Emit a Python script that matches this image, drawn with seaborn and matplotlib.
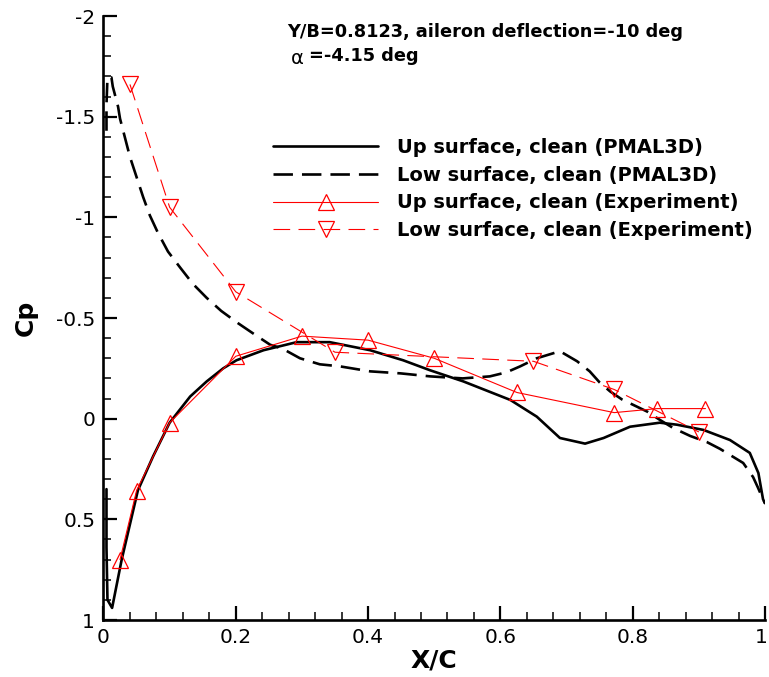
import numpy as np
import pandas as pd
import matplotlib
matplotlib.use("Agg")
import matplotlib.pyplot as plt
import matplotlib.transforms as mtransforms
import seaborn as sns
from matplotlib.ticker import FixedLocator, MultipleLocator, FixedFormatter

# ---------------- data ----------------
up_cfd_x = [0.0045, 0.0045, 0.006, 0.013, 0.0275, 0.052, 0.075, 0.10, 0.131, 0.156, 0.181,
            0.201, 0.242, 0.292, 0.342, 0.403, 0.453, 0.494, 0.544, 0.615, 0.655, 0.69,
            0.728, 0.756, 0.796, 0.841, 0.867, 0.907, 0.947, 0.977, 0.99, 0.997, 1.0]
up_cfd_cp = [0.35, 0.64, 0.90, 0.94, 0.70, 0.356, 0.187, 0.02, -0.11, -0.185, -0.25,
             -0.29, -0.34, -0.38, -0.38, -0.34, -0.29, -0.24, -0.185, -0.093, -0.01, 0.096,
             0.124, 0.096, 0.04, 0.02, 0.03, 0.056, 0.106, 0.17, 0.27, 0.40, 0.42]

low_cfd_x = [0.0045, 0.0045, 0.006, 0.012, 0.014, 0.022, 0.025, 0.0325, 0.04, 0.05, 0.06,
             0.07, 0.082, 0.0975, 0.116, 0.135, 0.156, 0.178, 0.203, 0.229, 0.252, 0.271,
             0.297, 0.327, 0.357, 0.403, 0.449, 0.494, 0.543, 0.584, 0.609, 0.63, 0.655,
             0.675, 0.69, 0.716, 0.735, 0.75, 0.766, 0.784, 0.803, 0.822, 0.841, 0.861,
             0.887, 0.912, 0.932, 0.952, 0.967, 0.982, 0.989, 0.997, 1.0]
low_cfd_cp = [-1.43, -1.56, -1.695, -1.695, -1.65, -1.55, -1.49, -1.395, -1.30, -1.20, -1.10,
              -1.01, -0.925, -0.83, -0.75, -0.67, -0.60, -0.535, -0.475, -0.417, -0.367, -0.347,
              -0.30, -0.27, -0.26, -0.235, -0.225, -0.21, -0.20, -0.21, -0.23, -0.26, -0.30,
              -0.32, -0.335, -0.285, -0.235, -0.18, -0.135, -0.095, -0.065, -0.035, 0.006, 0.046,
              0.086, 0.116, 0.15, 0.19, 0.22, 0.29, 0.34, 0.40, 0.42]

up_exp_x = [0.025, 0.05, 0.10, 0.20, 0.30, 0.40, 0.50, 0.625, 0.772, 0.837, 0.91]
up_exp_cp = [0.70, 0.357, 0.02, -0.31, -0.41, -0.39, -0.30, -0.13, -0.03, -0.05, -0.05]

low_exp_x = [0.04, 0.10, 0.20, 0.35, 0.65, 0.772, 0.90]
low_exp_cp = [-1.66, -1.05, -0.63, -0.33, -0.285, -0.145, 0.066]

labels = ["Up surface, clean (PMAL3D)", "Low surface, clean (PMAL3D)",
          "Up surface, clean (Experiment)", "Low surface, clean (Experiment)"]
x_ticks = [0, 0.2, 0.4, 0.6, 0.8, 1.0]
x_ticklabels = ["0", "0.2", "0.4", "0.6", "0.8", "1"]
y_ticks = [-2, -1.5, -1, -0.5, 0, 0.5, 1]
y_ticklabels = ["-2", "-1.5", "-1", "-0.5", "0", "0.5", "1"]
title1 = "Y/B=0.8123, aileron deflection=-10 deg"
title2 = "=-4.15 deg"

# ---------------- style ----------------
sns.set_theme(style="ticks")
plt.rcParams["font.family"] = ["DejaVu Sans"]
plt.rcParams["axes.unicode_minus"] = False
plt.rcParams["lines.scale_dashes"] = False
plt.rcParams["text.color"] = "black"
plt.rcParams["axes.labelcolor"] = "black"
plt.rcParams["xtick.color"] = "black"
plt.rcParams["ytick.color"] = "black"

W, H = 769, 677
fig = plt.figure(figsize=(W / 100, H / 100), dpi=100)
fig.patch.set_facecolor("white")
ax = fig.add_axes([103.5 / W, 1 - 620 / H, (765 - 103.5) / W, (620 - 16) / H])
ax.set_facecolor("white")

sns.lineplot(x=up_cfd_x, y=up_cfd_cp, sort=False, estimator=None, ax=ax,
             color="black", linewidth=1.9, label=labels[0])
sns.lineplot(x=low_cfd_x, y=low_cfd_cp, sort=False, estimator=None, ax=ax,
             color="black", linewidth=1.9, label=labels[1])
sns.lineplot(x=up_exp_x, y=up_exp_cp, sort=False, estimator=None, ax=ax,
             color="red", linewidth=0.8, marker="^", markersize=12,
             markerfacecolor="none", markeredgecolor="red", markeredgewidth=0.9,
             label=labels[2])
sns.lineplot(x=low_exp_x, y=low_exp_cp, sort=False, estimator=None, ax=ax,
             color="red", linewidth=0.8, marker="v", markersize=12,
             markerfacecolor="none", markeredgecolor="red", markeredgewidth=0.9,
             label=labels[3])

lines = ax.get_lines()
lines[1].set_dashes((14, 6.5))
lines[3].set_dashes((12, 6))

ax.set_xlim(0, 1)
ax.set_ylim(1, -2)
ax.xaxis.set_major_locator(FixedLocator(x_ticks))
ax.xaxis.set_major_formatter(FixedFormatter(x_ticklabels))
ax.xaxis.set_minor_locator(MultipleLocator(0.04))
ax.yaxis.set_major_locator(FixedLocator(y_ticks))
ax.yaxis.set_major_formatter(FixedFormatter(y_ticklabels))
ax.yaxis.set_minor_locator(MultipleLocator(0.1))

for s in ["top", "right"]:
    ax.spines[s].set_visible(False)
for s in ["left", "bottom"]:
    ax.spines[s].set_linewidth(1.9)
    ax.spines[s].set_color("black")

ax.tick_params(which="major", direction="in", length=10, width=1.6, colors="black",
               labelsize=14.5, pad=6)
ax.tick_params(which="minor", direction="in", length=5.5, width=1.1, colors="black")

# keep the last x tick label inside the canvas
fig.canvas.draw()
last = ax.get_xticklabels()[-1]
last.set_transform(last.get_transform() +
                   mtransforms.ScaledTranslation(-4 / 100, 0, fig.dpi_scale_trans))

ax.set_xlabel("X/C", fontsize=18, fontweight="bold", labelpad=1, color="black")
ax.set_ylabel("Cp", fontsize=18, fontweight="bold", labelpad=13, color="black")

leg = ax.legend(loc="upper left", bbox_to_anchor=(273 / W, 1 - 138 / H),
                bbox_transform=fig.transFigure, frameon=False, borderpad=0,
                borderaxespad=0, handlelength=5.4, handletextpad=1.0,
                labelspacing=0.45, numpoints=1,
                prop={"size": 14, "weight": "bold"})
for t in leg.get_texts():
    t.set_color("black")

fig.text(287 / W, 1 - 23 / H, title1, fontsize=12.8, fontweight="bold",
         ha="left", va="top", color="black")
fig.text(291 / W, 1 - 49 / H, "α", fontsize=14, fontweight="normal",
         ha="left", va="top", color="black")
fig.text(309 / W, 1 - 47 / H, title2, fontsize=12.8, fontweight="bold",
         ha="left", va="top", color="black")

fig.savefig("out.png", dpi=100, facecolor="white")
